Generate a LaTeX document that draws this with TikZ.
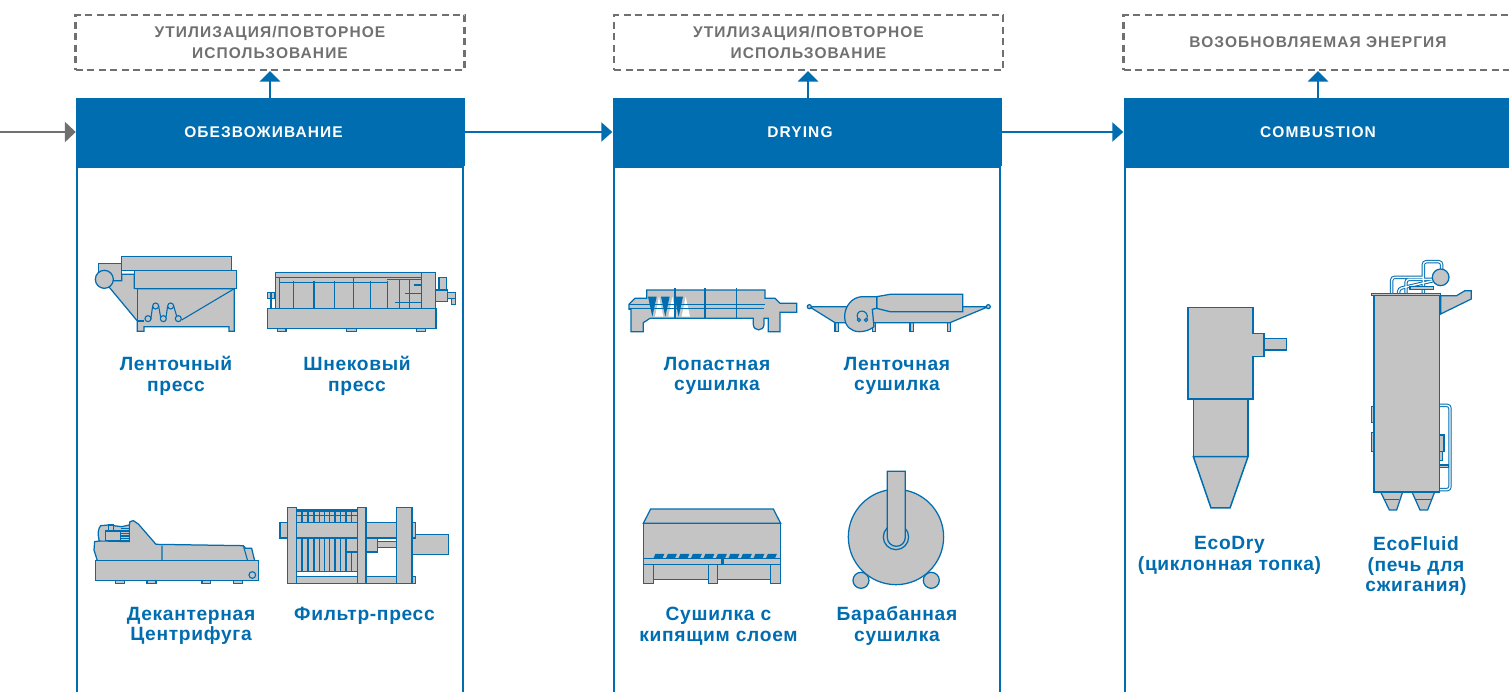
\documentclass[tikz,border=0pt]{standalone}
\usepackage{fontspec}
\setmainfont{Liberation Sans}
\newfontfamily\hdrfont[LetterSpace=7]{Liberation Sans}
\newfontfamily\lblfont[LetterSpace=3.5]{Liberation Sans}
\usetikzlibrary{arrows.meta}
\definecolor{bl}{HTML}{006DB0}
\definecolor{gy}{HTML}{707070}
\definecolor{mg}{HTML}{C4C4C4}
\tikzset{
 hdr/.style={fill=bl,draw=none,minimum width=389pt,minimum height=68pt,inner sep=0pt,text=white,font=\hdrfont\bfseries\fontsize{15.5}{17}\selectfont},
 bodybox/.style={draw=bl,line width=2.2pt,minimum width=386pt,minimum height=560pt,inner sep=0pt,anchor=north},
 dashbox/.style={draw=gy,line width=2.6pt,dash pattern=on 7pt off 4.5pt,minimum width=389pt,minimum height=55pt,inner sep=0pt,align=center,text=gy,font=\hdrfont\bfseries\fontsize{15.5}{21.5}\selectfont},
 lbl/.style={align=center,text=bl,inner sep=0pt,font=\lblfont\bfseries\fontsize{19.2}{20.5}\selectfont},
 upflow/.style={draw=bl,line width=2.2pt,-{Triangle[length=10.5pt,width=20pt]}},
 flow/.style={draw=bl,line width=2.2pt,-{Triangle[length=11pt,width=19pt]}},
 inflow/.style={draw=gy,line width=2.6pt,-{Triangle[length=11pt,width=20pt]}},
 mach/.style={fill=mg,draw=bl,line width=1.25pt,line join=miter},
 thinl/.style={draw=bl,line width=1.1pt},
 pipeo/.style={draw=bl,line width=3.4pt,rounded corners=3pt},
 pipei/.style={draw=white,line width=1.4pt,rounded corners=3pt},
}
\begin{document}
\begin{tikzpicture}[x=1pt,y=-1pt]
\clip (0,0) rectangle (1509,691);
\useasboundingbox (0,0) rectangle (1509,691);
\fill[white] (0,0) rectangle (1509,691);

% frames
\node[bodybox] (b1) at (270,166) {};
\node[bodybox] (b2) at (807,166) {};
\node[bodybox] (b3) at (1318,166) {};
\node[hdr] (h1) at (270.5,132) {\raisebox{-1pt}{\hspace*{-14pt}ОБЕЗВОЖИВАНИЕ}};
\node[hdr] (h2) at (807,132) {\raisebox{-1pt}{\hspace*{-14pt}DRYING}};
\node[hdr] (h3) at (1318,132) {\raisebox{-1pt}{COMBUSTION}};
\node[dashbox] (d1) at (270,42.5) {УТИЛИЗАЦИЯ/ПОВТОРНОЕ\\ИСПОЛЬЗОВАНИЕ};
\node[dashbox] (d2) at (808.5,42.5) {УТИЛИЗАЦИЯ/ПОВТОРНОЕ\\ИСПОЛЬЗОВАНИЕ};
\node[dashbox] (d3) at (1318,42.5) {ВОЗОБНОВЛЯЕМАЯ ЭНЕРГИЯ};
\coordinate (start) at (0,132);
\draw[inflow] (start) -- (h1.west);
\draw[flow] (h1.east) -- (h2.west);
\draw[flow] (h2.east) -- (h3.west);
\draw[upflow] (270,98) -- (270,71);
\draw[upflow] (808,98) -- (808,71);
\draw[upflow] (1318,98) -- (1318,71);

% labels
\node[lbl] (l1) at (176,376) {Ленточный\\пресс};
\node[lbl] (l2) at (357,376) {Шнековый\\пресс};
\node[lbl] (l3) at (191,626) {Декантерная\\Центрифуга};
\node[lbl] (l4) at (364.5,616) {Фильтр-пресс};
\node[lbl] (l5) at (717,376) {Лопастная\\сушилка};
\node[lbl] (l6) at (897,376) {Ленточная\\сушилка};
\node[lbl] (l7) at (718.5,626) {Сушилка с\\кипящим слоем};
\node[lbl] (l8) at (897,626) {Барабанная\\сушилка};
\node[lbl] (l9) at (1229.5,555.5) {EcoDry\\(циклонная топка)};
\node[lbl] (l10) at (1416,566.5) {EcoFluid\\(печь для\\сжигания)};

% belt press + screw press
\begin{scope}[shift={(80,240)},x=.3333pt,y=-.3333pt]
 \draw[mach] (125,50) rectangle (455,92);
 \draw[mach] (55,70) rectangle (125,122);
 \draw[mach] (125,103) -- (163,103) -- (163,145) -- (172,146) -- (463,146) -- (463,274) -- (447,274) -- (447,260) -- (192,260) -- (192,274) -- (172,274) -- (172,243) -- (88,142) -- (88,122) -- (125,122) -- cycle;
 \draw[mach] (163,92) rectangle (470,145);
 \draw[mach] (73,118) circle[radius=27];
 \draw[thinl] (172,146) -- (172,243) -- (193,243);
 \draw[thinl] (463,146) -- (305,240);
 \draw[thinl] (212,240) -- (218,198) (236,198) -- (242,232) (258,232) -- (263,198) (281,198) -- (290,228);
 \foreach \p in {(204,236),(250,236),(295,236),(227,198),(272,198)} \draw[thinl] \p circle[radius=9];
 % screw press
 \foreach \a/\b in {592/618,800/829,1010/1036} \draw[mach] (\a,265) rectangle (\b,274);
 \draw[mach] (1077,112) rectangle (1100,150);
 \draw[mach] (1114,170) rectangle (1126,193);
 \draw[mach] (1100,157) rectangle (1126,175);
 \draw[mach] (1066,150) rectangle (1102,184);
 \draw[mach] (562,157) rectangle (583,175);
 \draw[bl,line width=1.8pt] (572,157) -- (572,206);
 \draw[mach] (587,98) rectangle (1066,206);
 \draw[mach] (563,206) rectangle (1068,265);
 \draw[mach] (1025,98) rectangle (1066,206);
 \draw[thinl] (587,113) -- (1025,113) (598,113) -- (598,206) (598,127) -- (922,127);
 \foreach \a in {641,702,763,820,871,922} \draw[thinl] (\a,122) -- (\a,206);
 \draw[thinl] (820,113) -- (820,127) (922,119) -- (1025,119) (958,119) -- (958,206) (989,119) -- (989,206);
 \draw[thinl] (1003,135) -- (1025,135) (975,160) -- (1025,160) (945,187) -- (1025,187);
\end{scope}

% decanter + filter press
\begin{scope}[shift={(80,500)},x=.3333pt,y=-.3333pt]
 \foreach \a/\b in {106/133,201/228,366/392,460/488} \draw[mach] (\a,242) rectangle (\b,251);
 \draw[mach] (52,182) -- (42,150) -- (44,125) -- (58,123) .. controls (52,100) and (55,85) .. (62,77) -- (85,75) -- (125,80) -- (148,75) -- (150,65) -- (160,62) -- (175,72) -- (228,133) -- (490,137) -- (497,145) -- (515,145) -- (524,182) -- cycle;
 \draw[mach] (46,182) rectangle (535,242);
 \draw[thinl] (246,137) -- (246,182) (490,137) -- (503,182);
 \foreach \y in {85,90,95,100,105,110,115,120} \draw[bl,line width=.5pt] (122,\y) -- (148,\y);
 \draw[mach] (85,75) rectangle (100,93);
 \draw[bl,fill=mg,line width=1.4pt] (77,93) rectangle (122,122);
 \draw[thinl] (58,123) -- (148,125) -- (148,75);
 \draw[thinl] (517,225) circle[radius=10];
 % filter press
 \draw[mach] (996,103) rectangle (1105,164);
 \draw[mach] (893,124) rectangle (950,143);
 \draw[mach] (650,30) rectangle (832,215);
 \foreach \a in {666,684,702,718,733,749,765,782,798,815} \draw[thinl] (\a,30) -- (\a,215);
 \draw[bl,line width=1.2pt] (650,34) -- (832,34) (650,47) -- (832,47);
 \draw[mach] (600,67) rectangle (1007,114);
 \draw[mach] (800,114) rectangle (893,156);
 \draw[mach] (650,230) rectangle (1007,250);
 \draw[mach] (622,23) rectangle (650,250);
 \draw[mach] (832,23) rectangle (858,250);
 \draw[mach] (950,23) rectangle (996,250);
\end{scope}

% paddle dryer + belt dryer
\begin{scope}[shift={(620,280)},x=.3333pt,y=-.3333pt]
 \draw[mach] (27,73) -- (45,55) -- (80,55) -- (80,30) -- (435,30) -- (435,55) -- (465,55) -- (480,70) -- (530,70) -- (530,97) -- (480,97) -- (480,155) -- (445,155) -- (445,115) -- (432,115) -- (432,133) .. controls (432,155) and (400,155) .. (400,133) -- (400,115) -- (90,115) -- (70,128) -- (70,155) -- (33,155) -- (33,88) -- (27,88) -- cycle;
 \foreach \a in {105,145,185} \fill[white] (\a,110) -- (\a+25,110) -- (\a+12,50) -- cycle;
 \draw[thinl] (27,73) -- (435,73) (27,86) -- (432,86);
 \foreach \a in {84,123,163} \fill[bl] (\a,50) -- (\a+26,50) -- (\a+13,110) -- cycle;
 \foreach \a in {165,255,350} \draw[bl,line width=1.2pt] (\a,25) -- (\a,118);
 % belt dryer
 \foreach \a in {645,757,870,982} \draw[mach] (\a,128) rectangle (\a+10,155);
 \draw[mach] (568,80) -- (680,80) -- (770,60) -- (1028,80) -- (1105,80) -- (990,128) -- (645,128) -- cycle;
 \draw[mach] (770,50) -- (810,43) -- (1028,43) -- (1028,95) -- (810,95) -- (770,85) -- cycle;
 \draw[mach] (770,50) -- (725,50) .. controls (695,52) and (674,80) .. (674,110) .. controls (674,140) and (695,155) .. (718,155) .. controls (735,155) and (750,150) .. (762,140) -- (757,88) -- (770,85) -- cycle;
 \draw[thinl] (714,118) .. controls (700,85) and (750,85) .. (741,118);
 \draw[thinl] (717,120) circle[radius=5];
 \draw[thinl] (738,120) circle[radius=5];
 \draw[mach] (568,80) circle[radius=6];
 \draw[mach] (1105,80) circle[radius=6];
\end{scope}

% fluid bed + drum
\begin{scope}[shift={(630,460)},x=.3333pt,y=-.3333pt]
 \draw[mach] (40,190) -- (62,147) -- (430,147) -- (452,190) -- cycle;
 \draw[mach] (70,313) rectangle (422,358);
 \draw[mach] (40,190) rectangle (452,313);
 \draw[thinl] (40,296) -- (452,296);
 \foreach \a in {70,107.5,145,182.5,220,257.5,295,332.5,370,407.5} \fill[bl] (\a,296) -- (\a+6,282) -- (\a+33,282) -- (\a+27,296) -- cycle;
 \fill[bl] (272,296) rectangle (282,313);
 \draw[mach] (40,313) rectangle (70,370);
 \draw[mach] (235,313) rectangle (262,370);
 \draw[mach] (422,313) rectangle (452,370);
 \draw[mach] (693,361) circle[radius=24];
 \draw[mach] (904,361) circle[radius=24];
 \draw[mach] (798,231) circle[radius=143];
 \draw[mach] (798,231) circle[radius=38];
 \draw[mach] (772,34) -- (826,34) -- (826,232) arc[start angle=0,end angle=180,radius=27] -- cycle;
\end{scope}

% EcoDry + EcoFluid
\begin{scope}[shift={(1170,260)},x=.3333pt,y=-.3333pt]
 \draw[mach,line width=1.5pt] (282,236) rectangle (349,270);
 \draw[mach,line width=1.5pt] (54,142) -- (249,142) -- (249,220) -- (282,220) -- (282,290) -- (249,290) -- (249,417) -- (54,417) -- cycle;
 \draw[mach] (70,417) rectangle (234,590);
 \draw[mach,line width=1.5pt] (70,590) -- (234,590) -- (180,744) -- (123,744) -- cycle;
 % EcoFluid pipes
 \foreach \s in {pipeo,pipei} {
  \draw[\s] (665,100) -- (665,52) -- (760,52);
  \draw[\s] (760,100) -- (760,5) -- (815,5) -- (815,27);
  \draw[\s] (708,100) -- (708,58) -- (790,58);
  \draw[\s] (686,100) -- (686,86) -- (790,62);
  \draw[\s] (808,436) -- (840,436) -- (840,689) -- (808,689);
 }
 \draw[mach] (720,80) rectangle (790,88);
 \draw[mach] (812,52) circle[radius=25];
 \draw[mach] (812,107) -- (860,107) -- (885,92) -- (904,92) -- (904,117) -- (812,162) -- cycle;
 \draw[mach] (604,440) rectangle (612,488);
 \draw[mach] (604,518) rectangle (612,575);
 \draw[mach] (808,525) rectangle (822,575);
 \draw[mach] (808,575) rectangle (818,602);
 \draw[mach] (808,615) rectangle (835,622);
 \draw[mach] (632,696) -- (698,696) -- (680,750) -- (658,750) -- cycle;
 \draw[mach] (726,696) -- (794,696) -- (773,750) -- (750,750) -- cycle;
 \draw[thinl] (645,718) -- (688,718) (735,718) -- (785,718);
 \draw[mach] (612,107) rectangle (808,696);
 \draw[mach] (604,100) rectangle (812,107);
\end{scope}
\end{tikzpicture}
\end{document}
